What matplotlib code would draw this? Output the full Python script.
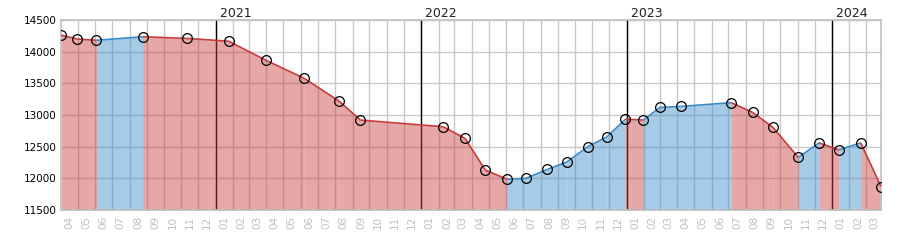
import matplotlib
matplotlib.use('Agg')
import matplotlib.pyplot as plt
import matplotlib.dates as mdates
import pandas as pd

# measured points (date, value)
dates = ['2020-04-01', '2020-04-30', '2020-06-03', '2020-08-24', '2020-11-10',
         '2021-01-24', '2021-03-31', '2021-06-07', '2021-08-08', '2021-09-15',
         '2022-02-09', '2022-03-20', '2022-04-25', '2022-06-03', '2022-07-06',
         '2022-08-13', '2022-09-17', '2022-10-24', '2022-11-27', '2022-12-30',
         '2023-01-31', '2023-03-01', '2023-04-07', '2023-07-06', '2023-08-13',
         '2023-09-18', '2023-11-02', '2023-12-09', '2024-01-13', '2024-02-21',
         '2024-03-28']
values = [14260, 14200, 14180, 14235, 14210,
          14165, 13865, 13580, 13220, 12920,
          12815, 12630, 12130, 11985, 12000,
          12140, 12260, 12500, 12655, 12935,
          12920, 13120, 13135, 13195, 13040,
          12805, 12330, 12560, 12450, 12560,
          11870]
years = [2021, 2022, 2023, 2024]
y_min, y_max = 11500, 14500

RED = '#c83c3c'
BLUE = '#3a8cc8'

x = mdates.date2num(pd.to_datetime(dates))

fig = plt.figure(figsize=(9, 2.5), dpi=100)
ax = fig.add_axes([61 / 900, 40 / 250, 820 / 900, 190 / 250])

# colour each segment by direction
for i in range(len(x) - 1):
    c = RED if values[i + 1] < values[i] else BLUE
    ax.fill_between([x[i], x[i + 1]], [values[i], values[i + 1]], y_min,
                    color=c, alpha=0.45, lw=0, zorder=2)
    ax.plot([x[i], x[i + 1]], [values[i], values[i + 1]], color=c, lw=1.2,
            zorder=3, solid_capstyle='butt')

ax.plot(x, values, ls='none', marker='o', ms=7, mfc='none', mec='black',
        mew=0.9, zorder=4)

# year separators
for yr in years:
    xd = mdates.date2num(pd.Timestamp(f'{yr}-01-01'))
    ax.axvline(xd, color='black', lw=1, zorder=1.5)
    ax.text(xd, y_max, f' {yr}', ha='left', va='bottom', fontsize=9,
            color='#222222', transform=ax.transData)

# month gridlines and mid-month labels
month_starts = pd.date_range('2020-05-01', '2024-03-01', freq='MS')
mids = pd.date_range('2020-04-01', '2024-03-01', freq='MS') + pd.Timedelta(days=15)
ax.set_xticks(mdates.date2num(month_starts))
ax.set_xticklabels([])
ax.set_xticks(mdates.date2num(mids), minor=True)
ax.set_xticklabels([d.strftime('%m') for d in mids], minor=True, rotation=90,
                   fontsize=7.5, color='#c0c0c0')
ax.tick_params(axis='x', which='both', length=0, pad=4)

ax.set_ylim(y_min, y_max)
ax.set_yticks(range(y_min, y_max + 1, 500))
ax.tick_params(axis='y', length=0, labelsize=7.5, pad=3)
ax.set_xlim(x[0], x[-1])

ax.grid(True, which='major', color='#c8c8c8', lw=1, zorder=1)
ax.set_axisbelow(True)
for s in ax.spines.values():
    s.set_color('#c0c0c0')
    s.set_linewidth(1.2)

plt.savefig('out.png', dpi=100)
